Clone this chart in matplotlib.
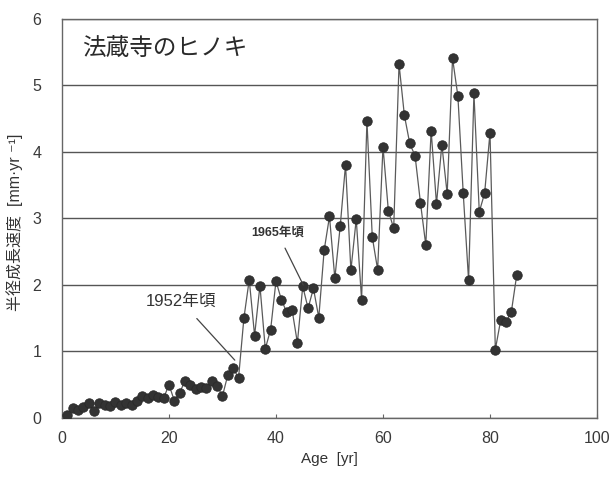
import matplotlib
matplotlib.use("Agg")
import matplotlib.pyplot as plt
import numpy as np

plt.rcParams['font.family'] = ['Liberation Sans', 'Noto Sans CJK JP', 'DejaVu Sans']

# Annual radial growth rate of the Hinoki (Japanese cypress) at Hōzō-ji
ages = list(range(1, 86))
growth = [
    0.05, 0.15, 0.12, 0.17, 0.22, 0.10, 0.22, 0.20, 0.18, 0.24,
    0.20, 0.22, 0.20, 0.25, 0.33, 0.30, 0.35, 0.32, 0.30, 0.50,
    0.26, 0.38, 0.56, 0.50, 0.43, 0.47, 0.45, 0.56, 0.48, 0.33,
    0.65, 0.75, 0.60, 1.50, 2.08, 1.24, 1.99, 1.04, 1.33, 2.06,
    1.78, 1.59, 1.63, 1.13, 1.98, 1.65, 1.95, 1.51, 2.52, 3.03,
    2.10, 2.88, 3.81, 2.22, 2.99, 1.78, 4.47, 2.72, 2.23, 4.08,
    3.12, 2.85, 5.32, 4.55, 4.13, 3.94, 3.24, 2.60, 4.32, 3.22,
    4.11, 3.37, 5.41, 4.84, 3.38, 2.07, 4.88, 3.10, 3.38, 4.29,
    1.03, 1.47, 1.44, 1.60, 2.15,
]

title_text = "法蔵寺のヒノキ"
xlabel_text = "Age  [yr]"
ylabel_text = "半径成長速度  [mm·yr ⁻¹]"
ann_1952 = "1952年頃"
ann_1965 = "1965年頃"
age_1952 = 32
age_1965 = 45

xticks = [0, 20, 40, 60, 80, 100]
yticks = [0, 1, 2, 3, 4, 5, 6]

fig = plt.figure(figsize=(6.15, 4.86), dpi=100)
ax = fig.add_axes([0.1008, 0.1399, 0.8699, 0.8211])

ax.plot(ages, growth, color='#5a5a5a', lw=0.9, marker='o', ms=6.8,
        mfc='#333333', mec='#2a2a2a', mew=0.6, zorder=3)

ax.set_xlim(0, 100)
ax.set_ylim(0, 6)
ax.set_xticks(xticks)
ax.set_yticks(yticks)
ax.yaxis.grid(True, color='#555555', lw=1.0)
ax.set_axisbelow(True)
for s in ax.spines.values():
    s.set_color('#666666')
    s.set_linewidth(1.0)
ax.tick_params(axis='x', direction='in', length=3, color='#666666',
               labelsize=11.5, labelcolor='#3a3a3a', pad=9)
ax.tick_params(axis='y', length=0, labelsize=11.5, labelcolor='#3a3a3a', pad=15)

ax.set_xlabel(xlabel_text, fontsize=11, color='#333333', labelpad=5)
ax.set_ylabel(ylabel_text, fontsize=11.5, color='#333333', labelpad=1)
ax.yaxis.set_label_coords(-0.073, 0.49)

ax.text(3.7, 5.55, title_text, fontsize=17, color='#2a2a2a', va='center', ha='left',
        family=['Noto Sans CJK JP', 'DejaVu Sans'])

v1952 = growth[ages.index(age_1952)]
ax.annotate(ann_1952, xy=(age_1952 + 0.3, v1952 + 0.12), xytext=(22.2, 1.76),
            fontsize=12, color='#333333', ha='center', va='center',
            arrowprops=dict(arrowstyle='-', color='#444444', lw=0.9,
                            shrinkA=7, shrinkB=0))
v1965 = growth[ages.index(age_1965)]
ax.annotate(ann_1965, xy=(age_1965 + 0.1, v1965 + 0.02), xytext=(40.3, 2.78),
            fontsize=9, color='#333333', ha='center', va='center',
            fontweight='bold',
            arrowprops=dict(arrowstyle='-', color='#444444', lw=0.9,
                            shrinkA=5, shrinkB=0))

fig.savefig('out.png', dpi=100)
